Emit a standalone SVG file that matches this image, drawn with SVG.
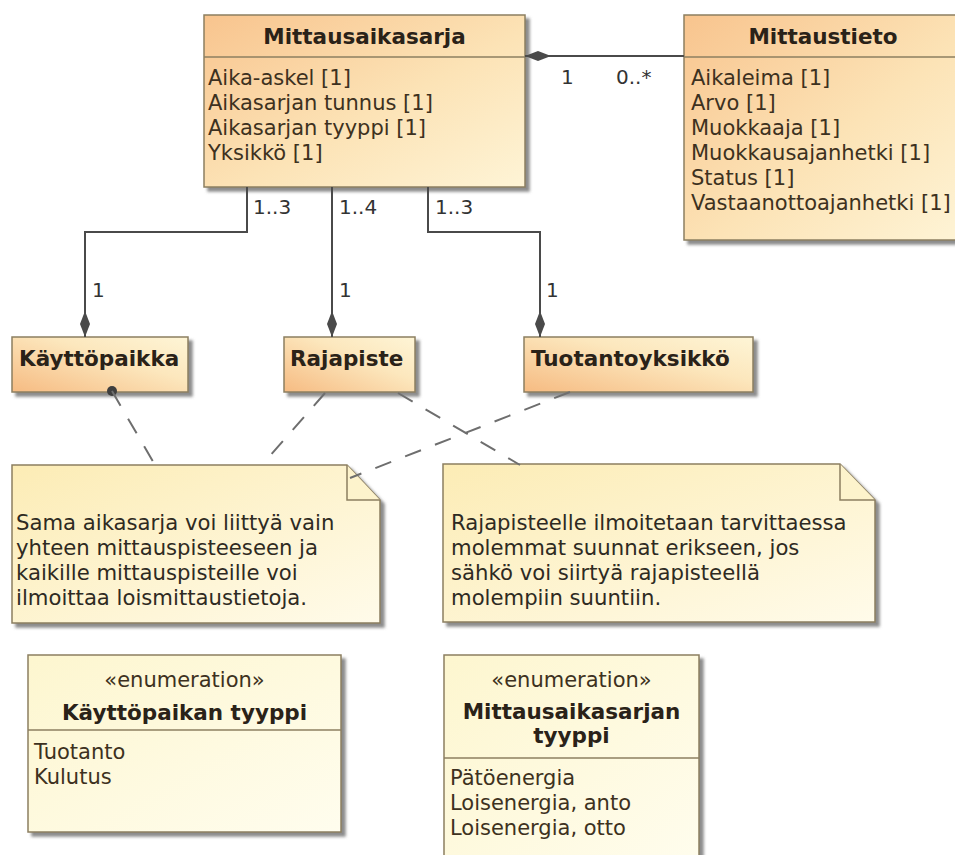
<svg xmlns="http://www.w3.org/2000/svg" width="955" height="855" viewBox="0 0 955 855">
<defs>
<linearGradient id="gCls" x1="0" y1="0" x2="1" y2="1">
<stop offset="0" stop-color="#f8c48e"/>
<stop offset="0.55" stop-color="#fce3b6"/>
<stop offset="1" stop-color="#fef4d6"/>
</linearGradient>
<linearGradient id="gSmall" x1="0" y1="1" x2="1" y2="0">
<stop offset="0" stop-color="#f6bb82"/>
<stop offset="0.6" stop-color="#fce7bd"/>
<stop offset="1" stop-color="#fef5d6"/>
</linearGradient>
<linearGradient id="gNote" x1="0" y1="0" x2="1" y2="1">
<stop offset="0" stop-color="#fcecb5"/>
<stop offset="1" stop-color="#fffbea"/>
</linearGradient>
<linearGradient id="gEnum" x1="0" y1="0" x2="1" y2="1">
<stop offset="0" stop-color="#fdf6cf"/>
<stop offset="1" stop-color="#fffdee"/>
</linearGradient>
<filter id="sh" x="-5%" y="-5%" width="115%" height="120%">
<feDropShadow dx="4" dy="4" stdDeviation="1.5" flood-color="#6e6e6e" flood-opacity="0.8"/>
</filter>
<marker id="dia" markerUnits="userSpaceOnUse" viewBox="0 -6 26 12" refX="26" refY="0" markerWidth="26" markerHeight="12" orient="auto">
<path d="M0,0 L13,-5 L26,0 L13,5 Z" fill="#4a4a4a"/>
</marker>
</defs>
<style>
.box{stroke:#8c7f60;stroke-width:1.5}
.t{font-family:"DejaVu Sans",sans-serif;font-size:21px;fill:#3d3120}
.b{font-family:"DejaVu Sans",sans-serif;font-size:21.5px;font-weight:bold;fill:#2a2218}
.m{font-family:"DejaVu Sans",sans-serif;font-size:20px;fill:#333}
.n{font-family:"DejaVu Sans",sans-serif;font-size:21.2px;fill:#2e2a22}
.c{text-anchor:middle}
.conn{fill:none;stroke:#4a4a4a;stroke-width:2}
.dash{fill:none;stroke:#6e6e6e;stroke-width:2;stroke-dasharray:17 15}
</style>
<rect width="955" height="855" fill="#ffffff"/>

<g id="Mittausaikasarja">
<rect class="box" x="204" y="15" width="321" height="172" fill="url(#gCls)" filter="url(#sh)"/>
<line x1="204" y1="57" x2="525" y2="57" stroke="#8c7f60" stroke-width="1.5"/>
<text class="b c" x="364.5" y="44">Mittausaikasarja</text>
<text class="t" x="208" y="85">Aika-askel [1]</text>
<text class="t" x="208" y="110">Aikasarjan tunnus [1]</text>
<text class="t" x="208" y="135">Aikasarjan tyyppi [1]</text>
<text class="t" x="208" y="160">Yksikkö [1]</text>
</g>

<g id="Mittaustieto">
<rect class="box" x="684" y="15" width="278" height="225" fill="url(#gCls)" filter="url(#sh)"/>
<line x1="684" y1="57" x2="962" y2="57" stroke="#8c7f60" stroke-width="1.5"/>
<text class="b c" x="823" y="44">Mittaustieto</text>
<text class="t" x="691" y="85">Aikaleima [1]</text>
<text class="t" x="691" y="110">Arvo [1]</text>
<text class="t" x="691" y="135">Muokkaaja [1]</text>
<text class="t" x="691" y="160">Muokkausajanhetki [1]</text>
<text class="t" x="691" y="185">Status [1]</text>
<text class="t" x="691" y="210">Vastaanottoajanhetki [1]</text>
</g>

<g id="Kayttopaikka">
<rect class="box" x="12" y="337" width="176" height="55" fill="url(#gSmall)" filter="url(#sh)"/>
<text class="b" x="19" y="366">Käyttöpaikka</text>
</g>

<g id="Rajapiste">
<rect class="box" x="284" y="337" width="131" height="55" fill="url(#gSmall)" filter="url(#sh)"/>
<text class="b" x="290" y="366">Rajapiste</text>
</g>

<g id="Tuotantoyksikko">
<rect class="box" x="524" y="337" width="229" height="55" fill="url(#gSmall)" filter="url(#sh)"/>
<text class="b" x="531" y="366">Tuotantoyksikkö</text>
</g>

<g id="note1">
<path class="box" d="M12,465 H347 L380,500 V623 H12 Z" fill="url(#gNote)" filter="url(#sh)"/>
<path d="M347,465 V500 H380" fill="#fdf3cc" stroke="#8c7f60" stroke-width="1.5"/>
<text class="n" x="16" y="530">Sama aikasarja voi liittyä vain</text>
<text class="n" x="16" y="555">yhteen mittauspisteeseen ja</text>
<text class="n" x="16" y="580">kaikille mittauspisteille voi</text>
<text class="n" x="16" y="605">ilmoittaa loismittaustietoja.</text>
</g>

<g id="note2">
<path class="box" d="M443,464 H840 L875,500 V622 H443 Z" fill="url(#gNote)" filter="url(#sh)"/>
<path d="M840,464 V500 H875" fill="#fdf3cc" stroke="#8c7f60" stroke-width="1.5"/>
<text class="n" x="451" y="530">Rajapisteelle ilmoitetaan tarvittaessa</text>
<text class="n" x="451" y="555">molemmat suunnat erikseen, jos</text>
<text class="n" x="451" y="580">sähkö voi siirtyä rajapisteellä</text>
<text class="n" x="451" y="605">molempiin suuntiin.</text>
</g>

<g id="enum1">
<rect class="box" x="28" y="655" width="313" height="177" fill="url(#gEnum)" filter="url(#sh)"/>
<line x1="28" y1="730" x2="341" y2="730" stroke="#8c7f60" stroke-width="1.5"/>
<text class="t c" x="184.5" y="687">«enumeration»</text>
<text class="b c" x="184.5" y="720">Käyttöpaikan tyyppi</text>
<text class="t" x="34" y="759">Tuotanto</text>
<text class="t" x="34" y="784">Kulutus</text>
</g>

<g id="enum2">
<rect class="box" x="444" y="655" width="255" height="215" fill="url(#gEnum)" filter="url(#sh)"/>
<line x1="444" y1="758" x2="699" y2="758" stroke="#8c7f60" stroke-width="1.5"/>
<text class="t c" x="571.5" y="687">«enumeration»</text>
<text class="b c" x="571.5" y="719">Mittausaikasarjan</text>
<text class="b c" x="571.5" y="743">tyyppi</text>
<text class="t" x="450" y="785">Pätöenergia</text>
<text class="t" x="450" y="810">Loisenergia, anto</text>
<text class="t" x="450" y="835">Loisenergia, otto</text>
</g>

<g id="connectors">
<path class="conn" d="M684,56 H525" marker-end="url(#dia)"/>
<text class="m" x="561" y="84">1</text>
<text class="m" x="616" y="84">0..*</text>
<path class="conn" d="M247,187 V232 H85 V337" marker-end="url(#dia)"/>
<path class="conn" d="M332,187 V337" marker-end="url(#dia)"/>
<path class="conn" d="M428,187 V232 H540 V337" marker-end="url(#dia)"/>
<text class="m" x="253" y="214">1..3</text>
<text class="m" x="339" y="214">1..4</text>
<text class="m" x="435" y="214">1..3</text>
<text class="m" x="92" y="297">1</text>
<text class="m" x="339" y="297">1</text>
<text class="m" x="546" y="297">1</text>
<circle cx="112" cy="391" r="5" fill="#3e3e3e"/>
<path class="dash" d="M112,391 L155,465"/>
<path class="dash" d="M325,393 L262,465"/>
<path class="dash" d="M398,393 L520,465"/>
<path class="dash" d="M570,392 L350,478"/>
</g>
</svg>
